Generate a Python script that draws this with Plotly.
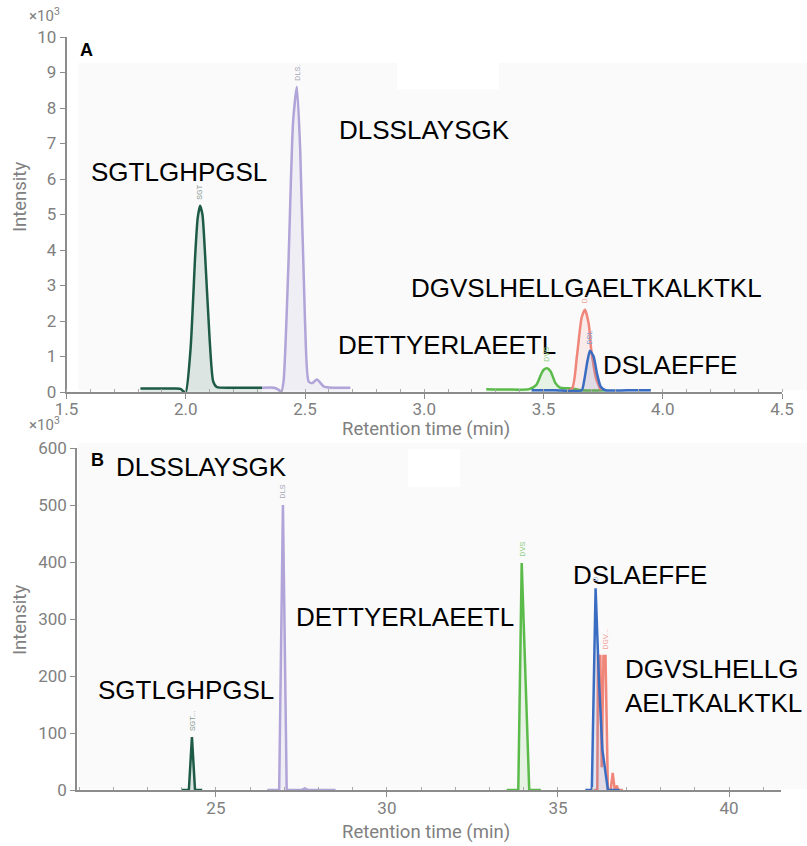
import plotly.graph_objects as go

W, H = 807, 846

# ---------------- Panel A data (intensity in x10^3) ----------------
A_SGT_t = [1.81, 1.90, 1.96, 1.98, 1.99, 2.00, 2.02, 2.04, 2.05, 2.06, 2.07, 2.08, 2.10, 2.115, 2.13, 2.20, 2.32]
A_SGT_i = [0.10, 0.10, 0.10, 0.08, 0.02, 0.0, 1.2, 3.9, 4.9, 5.25, 5.0, 4.0, 1.5, 0.3, 0.14, 0.12, 0.12]

A_DLS_t = [2.32, 2.37, 2.39, 2.40, 2.41, 2.43, 2.45, 2.466, 2.48, 2.50, 2.515, 2.53, 2.55, 2.58, 2.62, 2.69]
A_DLS_i = [0.12, 0.12, 0.06, 0.0, 0.3, 3.5, 7.6, 8.6, 6.8, 2.0, 0.3, 0.25, 0.35, 0.15, 0.12, 0.12]

A_DVS_t = [3.26, 3.35, 3.44, 3.47, 3.49, 3.50, 3.515, 3.53, 3.55, 3.57, 3.62, 3.66, 3.76]
A_DVS_i = [0.08, 0.07, 0.08, 0.2, 0.5, 0.62, 0.67, 0.58, 0.25, 0.12, 0.1, 0.05, 0.05]

A_DGV_t = [3.58, 3.62, 3.64, 3.66, 3.674, 3.69, 3.70, 3.72, 3.74]
A_DGV_i = [0.0, 0.1, 1.0, 2.1, 2.32, 1.9, 1.2, 0.4, 0.05]

A_DSL_t = [3.45, 3.55, 3.66, 3.67, 3.685, 3.695, 3.71, 3.725, 3.74, 3.76, 3.85, 3.95]
A_DSL_i = [0.05, 0.05, 0.05, 0.3, 0.9, 1.16, 1.0, 0.5, 0.15, 0.05, 0.05, 0.05]

# ---------------- Panel B data (intensity in x10^3) ----------------
B_SGT_t = [24.0, 24.21, 24.30, 24.39, 24.6]
B_SGT_i = [0, 0, 93, 0, 0]

B_DLS_t = [26.5, 26.85, 26.96, 27.07, 27.5, 27.6, 27.7, 28.5]
B_DLS_i = [0, 0, 500, 0, 0, 3, 0, 0]

B_DVS_t = [33.5, 33.84, 33.94, 34.16, 34.5]
B_DVS_i = [0, 0, 398, 0, 0]

B_DSL_t = [35.8, 35.99, 36.10, 36.2, 36.3, 36.46, 36.8]
B_DSL_i = [0, 0, 354, 190, 70, 0, 0]

B_DGV_t = [36.05, 36.15, 36.17, 36.24, 36.28, 36.33, 36.39, 36.46, 36.54, 36.6, 36.66, 36.69, 36.72, 36.76, 36.9]
B_DGV_i = [0, 0, 235, 235, 40, 235, 235, 0, 0, 30, 0, 0, 8, 0, 0]

# tick labels
A_xticks = [1.5, 2.0, 2.5, 3.0, 3.5, 4.0, 4.5]
A_yticks = [0, 1, 2, 3, 4, 5, 6, 7, 8, 9, 10]
B_xticks = [25, 30, 35, 40]
B_yticks = [0, 100, 200, 300, 400, 500, 600]

# peptide labels
A_labels = [("SGTLGHPGSL", 1.97, 6.2), ("DLSSLAYSGK", 3.0, 7.38),
            ("DGVSLHELLGAELTKALKTKL", 3.68, 2.93), ("DETTYERLAEETL", 3.095, 1.32),
            ("DSLAEFFE", 4.03, 0.76)]
B_labels = [("DLSSLAYSGK", 24.59, 567), ("SGTLGHPGSL", 24.12, 175),
            ("DETTYERLAEETL", 30.53, 303), ("DSLAEFFE", 37.4, 377),
            ("DGVSLHELLG<br>AELTKALKTKL", 39.55, 182)]

# colours
C_SGT = "#1d5b45"; F_SGT = "rgba(29,91,69,0.13)"
C_DLS = "#b1a4d8"; F_DLS = "rgba(177,164,216,0.13)"
C_DVS = "#5bbb4a"; F_DVS = "rgba(91,187,74,0.12)"
C_DGV = "#ef8679"; F_DGV = "rgba(239,134,121,0.12)"
C_DSL = "#3a6cc2"; F_DSL = "rgba(58,108,194,0.12)"
GRAY = "#808080"


def px(x):
    return x / W


def py(y):
    return 1 - y / H


fig = go.Figure()

# panel A traces
for t, v, c, f in [(A_SGT_t, A_SGT_i, C_SGT, F_SGT), (A_DLS_t, A_DLS_i, C_DLS, F_DLS),
                   (A_DVS_t, A_DVS_i, C_DVS, F_DVS), (A_DGV_t, A_DGV_i, C_DGV, F_DGV),
                   (A_DSL_t, A_DSL_i, C_DSL, F_DSL)]:
    fig.add_trace(go.Scatter(x=t, y=v, mode="lines", xaxis="x", yaxis="y",
                             line=dict(color=c, width=2.5, shape="spline", smoothing=0.6),
                             fill="tozeroy", fillcolor=f, showlegend=False, hoverinfo="skip"))

# panel B traces
for t, v, c, f in [(B_SGT_t, B_SGT_i, C_SGT, F_SGT), (B_DLS_t, B_DLS_i, C_DLS, F_DLS),
                   (B_DVS_t, B_DVS_i, C_DVS, F_DVS), (B_DGV_t, B_DGV_i, C_DGV, F_DGV),
                   (B_DSL_t, B_DSL_i, C_DSL, F_DSL)]:
    fig.add_trace(go.Scatter(x=t, y=v, mode="lines", xaxis="x2", yaxis="y2",
                             line=dict(color=c, width=2.5),
                             fill="tozeroy", fillcolor=f, showlegend=False, hoverinfo="skip"))

axis_common = dict(showgrid=False, zeroline=False, showline=True, linecolor="#8c8c8c",
                   linewidth=1.5, ticks="outside", ticklen=5, tickcolor="#8c8c8c",
                   automargin=False,
                   tickfont=dict(family="Roboto", size=17, color=GRAY))

fig.update_layout(
    width=W, height=H, margin=dict(l=0, r=0, t=0, b=0, autoexpand=False),
    paper_bgcolor="white", plot_bgcolor="rgba(0,0,0,0)",
    xaxis=dict(domain=[px(66.5), px(782)], range=[1.5, 4.5], anchor="y",
               tickvals=A_xticks, ticktext=[f"{v:.1f}" for v in A_xticks],
               ticklabelstandoff=-4,
               minor=dict(ticks="inside", ticklen=3, dtick=0.1, tickcolor="#aaaaaa"),
               **axis_common),
    yaxis=dict(domain=[py(392), py(37)], range=[0, 10], anchor="x",
               tickvals=A_yticks, **axis_common),
    xaxis2=dict(domain=[px(77), px(781)], range=[20.94, 41.52], anchor="y2",
                tickvals=B_xticks, ticklabelstandoff=-3,
                minor=dict(ticks="inside", ticklen=3, dtick=1, tickcolor="#aaaaaa"),
                **axis_common),
    yaxis2=dict(domain=[py(790), py(448)], range=[0, 600], anchor="x2",
                tickvals=B_yticks, **axis_common),
)

# faint plot backgrounds and white patches
shapes = [
    dict(type="rect", xref="paper", yref="paper", x0=px(78), x1=px(807), y0=py(390), y1=py(63),
         fillcolor="rgb(250,250,250)", line=dict(width=0), layer="below"),
    dict(type="rect", xref="paper", yref="paper", x0=px(397), x1=px(499), y0=py(89), y1=py(63),
         fillcolor="white", line=dict(width=0), layer="below"),
    dict(type="rect", xref="paper", yref="paper", x0=px(78), x1=px(807), y0=py(789), y1=py(443),
         fillcolor="rgb(250,250,250)", line=dict(width=0), layer="below"),
    dict(type="rect", xref="paper", yref="paper", x0=px(408), x1=px(460), y0=py(487), y1=py(449),
         fillcolor="white", line=dict(width=0), layer="below"),
]
fig.update_layout(shapes=shapes)

ann = []
big = dict(family="Liberation Sans, Arial", size=26, color="black")
for txt, x, y in A_labels:
    ann.append(dict(text=txt, x=x, y=y, xref="x", yref="y", showarrow=False, font=big,
                    xanchor="center", yanchor="middle"))
for txt, x, y in B_labels:
    ann.append(dict(text=txt, x=x, y=y, xref="x2", yref="y2", showarrow=False, font=big,
                    align="left", xanchor="center", yanchor="middle"))

# tiny rotated peak labels
small = lambda c: dict(family="Roboto", size=8, color=c)
for txt, x, y, c, xr, yr in [("SGT", 2.06, 5.35, "#8a9a94", "x", "y"),
                              ("DLS.", 2.466, 8.7, "#a8a8b8", "x", "y"),
                              ("DVS", 3.515, 0.78, "#8fcf86", "x", "y"),
                              ("D..", 3.674, 2.42, "#f0a59c", "x", "y"),
                              ("DSL", 3.695, 1.26, "#7f9bd0", "x", "y"),
                              ("SGT...", 24.30, 100, "#8a9a94", "x2", "y2"),
                              ("DLS", 26.96, 508, "#a8a8b8", "x2", "y2"),
                              ("DVS", 33.94, 406, "#8fcf86", "x2", "y2"),
                              ("D", 36.10, 362, "#a9bde3", "x2", "y2"),
                              ("DGV...", 36.40, 243, "#f0a59c", "x2", "y2")]:
    ann.append(dict(text=txt, x=x, y=y, xref=xr, yref=yr, showarrow=False, textangle=-90,
                    xanchor="center", yanchor="bottom", font=small(c)))

# axis titles, multipliers, panel letters
title_font = dict(family="Roboto", size=18.5, color=GRAY)
pa = dict(xref="paper", yref="paper", showarrow=False, xanchor="center", yanchor="middle")
ann += [
    dict(text="Retention time (min)", x=px(426), y=py(429), font=title_font, **pa),
    dict(text="Retention time (min)", x=px(426), y=py(832), font=title_font, **pa),
    dict(text="Intensity", x=px(20), y=py(197), textangle=-90, font=title_font, **pa),
    dict(text="Intensity", x=px(20), y=py(620), textangle=-90, font=title_font, **pa),
    dict(text="×10<sup>3</sup>", x=px(44), y=py(15), font=dict(family="Roboto", size=15, color=GRAY), **pa),
    dict(text="×10<sup>3</sup>", x=px(44), y=py(424), font=dict(family="Roboto", size=15, color=GRAY), **pa),
    dict(text="<b>A</b>", x=px(86), y=py(50),
         font=dict(family="Liberation Sans, Arial", size=18, color="black"), **pa),
    dict(text="<b>B</b>", x=px(97), y=py(460),
         font=dict(family="Liberation Sans, Arial", size=18, color="black"), **pa),
]
fig.update_layout(annotations=ann)

fig.write_html("out.html", config={"displayModeBar": False},
               post_script="document.body.style.margin='0';document.body.style.padding='0';"
                           "document.documentElement.style.overflow='hidden';")
